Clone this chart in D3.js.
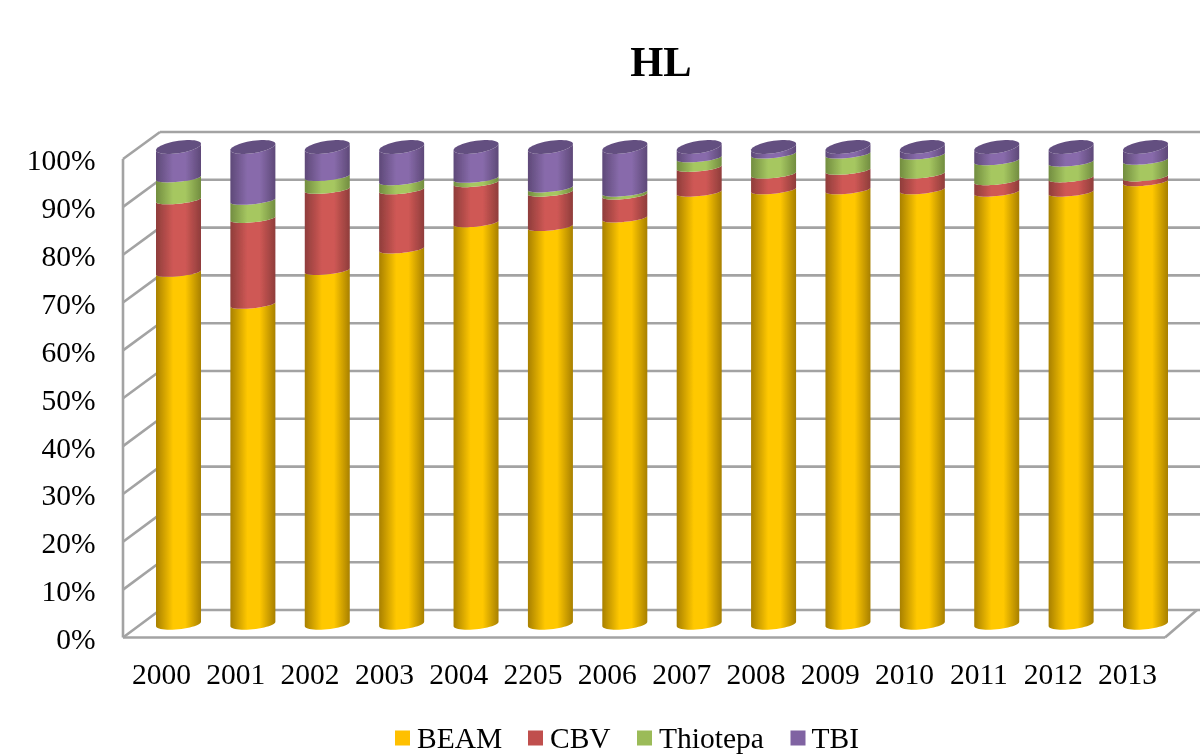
<!DOCTYPE html>
<html><head><meta charset="utf-8">
<script src="https://cdn.jsdelivr.net/npm/d3@7/dist/d3.min.js"></script>
<style>
html,body{margin:0;padding:0;background:#fff;overflow:hidden}
text{font-family:"Liberation Serif","Times New Roman",serif;fill:#000}
</style></head><body><svg id="c" width="1200" height="755"></svg>
<script>
const title = "HL";
const years = ["2000","2001","2002","2003","2004","2205","2006","2007","2008","2009","2010","2011","2012","2013"];
const seriesNames = ["BEAM","CBV","Thiotepa","TBI"];
const BEAM     = [73.7,67.0,74.1,78.6,84.1,83.3,85.1,90.5,91.0,91.0,91.0,90.5,90.5,92.7];
const CBV      = [15.2,18.0,17.0,12.4, 8.4, 7.2, 4.8, 5.2, 3.3, 4.1, 3.3, 2.4, 3.0, 1.0];
const Thiotepa = [ 4.6, 3.8, 2.7, 1.9, 0.9, 0.9, 0.6, 2.0, 4.2, 3.4, 4.0, 4.2, 3.3, 3.5];
const TBI      = [ 6.5,11.2, 6.2, 7.1, 6.6, 8.6, 9.5, 2.3, 1.5, 1.5, 1.7, 2.9, 3.2, 2.8];
const yTicks = [0,10,20,30,40,50,60,70,80,90,100];
const seriesValues = [BEAM,CBV,Thiotepa,TBI];
const colors = [
  {edge:"#a88000",mid:"#ffc800",flat:"#ffc000"},
  {edge:"#8f3d3b",mid:"#cf5855",flat:"#c0504d"},
  {edge:"#728d40",mid:"#a6c761",flat:"#9bbb59"},
  {edge:"#5e4978",mid:"#886bab",flat:"#8064a2"}
];
const capColor = "#644f80";

const rows = years.map((y,i)=>{const o={year:y};seriesNames.forEach((n,k)=>o[n]=seriesValues[k][i]);return o;});
const stacked = d3.stack().keys(seriesNames)(rows);

const svg = d3.select("#c");
const defs = svg.append("defs");
colors.forEach((c,i)=>{
  const g = defs.append("linearGradient").attr("id","g"+i).attr("x1","0").attr("x2","1").attr("y1","0").attr("y2","0");
  [[0,c.edge],[0.38,c.mid],[0.65,c.mid],[1,c.edge]].forEach(s=>g.append("stop").attr("offset",s[0]).attr("stop-color",s[1]));
});
defs.append("filter").attr("id","soft").attr("x","-5%").attr("y","-5%").attr("width","110%").attr("height","110%")
  .append("feGaussianBlur").attr("stdDeviation",0.6);
defs.append("filter").attr("id","softText").attr("x","-5%").attr("y","-5%").attr("width","110%").attr("height","110%")
  .append("feGaussianBlur").attr("stdDeviation",0.3);

const x = d3.scalePoint().domain(years).range([178.5,1145.5]);
const xLabels = d3.scalePoint().domain(years).range([161,1127]);
const yBar = d3.scaleLinear().domain([0,100]).range([624,147]);
const yBack = d3.scaleLinear().domain([0,100]).range([610,132]);
const yFront = d3.scaleLinear().domain([0,100]).range([637.5,159]);
const wallL=123, wallB=160, floorR=1165, backR=1197, rx=22.5;
const rySide=3.8, tiltSide=2.2, ryBase=5.3, tiltBase=2.2, ryCap=6.2, tiltCap=3.2;

const chart = svg.append("g").attr("filter","url(#soft)");
const gridColor="#a3a3a3";
const grid = chart.append("g").attr("fill","none").attr("stroke",gridColor).attr("stroke-width",2.6);
yTicks.forEach(v=>{
  grid.append("line").attr("x1",wallL).attr("y1",yFront(v)).attr("x2",wallB).attr("y2",yBack(v));
  grid.append("line").attr("x1",wallB).attr("y1",yBack(v)).attr("x2",1203).attr("y2",yBack(v));
});
grid.append("line").attr("x1",wallL).attr("y1",yFront(0)).attr("x2",wallL).attr("y2",yFront(100));
grid.append("line").attr("x1",wallL).attr("y1",yFront(0)).attr("x2",floorR).attr("y2",yFront(0));
grid.append("line").attr("x1",floorR).attr("y1",yFront(0)).attr("x2",backR).attr("y2",yBack(0));

const arcTs = d3.range(0,1.0001,1/24).map(f=>Math.PI*f);
const arc = (cx,cy,ry,tilt)=>arcTs.map(t=>[cx+rx*Math.cos(t), cy+ry*Math.sin(t)-tilt*Math.cos(t)]);
const line = d3.line();
function segPath(cx,v0,v1){
  const low = (v0===0 ? arc(cx,yBar(v0),ryBase,tiltBase) : arc(cx,yBar(v0),rySide,tiltSide)).reverse();
  const up = v1>=99.9 ? arc(cx,yBar(v1),ryCap,tiltCap) : arc(cx,yBar(v1),rySide,tiltSide);
  return line(low.concat(up))+"Z";
}
function capPath(cx,v){
  const ts=d3.range(0,2.0001,1/24).map(f=>Math.PI*f);
  return line(ts.map(t=>[cx+rx*Math.cos(t), yBar(v)+ryCap*Math.sin(t)-tiltCap*Math.cos(t)]))+"Z";
}
stacked.forEach((layer,k)=>{
  chart.append("g").selectAll("path").data(layer).join("path")
    .attr("d",(d,i)=>segPath(x(years[i]),d[0],d[1]))
    .attr("fill","url(#g"+k+")");
});
chart.append("g").selectAll("path").data(stacked[3]).join("path")
  .attr("d",(d,i)=>capPath(x(years[i]),d[1])).attr("fill",capColor);

const fs=29.5;
const yAxis = svg.append("g").attr("transform","translate(95.5,1.5)").attr("filter","url(#softText)")
  .call(d3.axisLeft(yFront).tickValues(yTicks).tickFormat(d=>d+"%").tickSize(0).tickPadding(0));
yAxis.select(".domain").remove();
yAxis.selectAll("text").attr("font-size",fs).attr("dy","0.32em").attr("x",0);
yAxis.attr("font-family",null).attr("font-size",null);

const xAxis = svg.append("g").attr("transform","translate(0,684)").attr("filter","url(#softText)")
  .call(d3.axisBottom(xLabels).tickSize(0).tickPadding(0));
xAxis.select(".domain").remove();
xAxis.selectAll("text").attr("font-size",fs).attr("dy",0).attr("y",0);
xAxis.attr("font-family",null).attr("font-size",null);

svg.append("text").attr("x",661).attr("y",76).attr("text-anchor","middle").attr("filter","url(#softText)")
  .attr("font-size",42.5).attr("font-weight","bold").text(title);

const legendSwatch=[395,528,637,790.5], legendText=[417,550,659,811.5];
const legend = svg.append("g").attr("filter","url(#softText)");
seriesNames.forEach((n,i)=>{
  legend.append("rect").attr("x",legendSwatch[i]).attr("y",730.5).attr("width",15).attr("height",15).attr("fill",colors[i].flat);
  legend.append("text").attr("x",legendText[i]).attr("y",748).attr("font-size",fs).text(n);
});
</script></body></html>
